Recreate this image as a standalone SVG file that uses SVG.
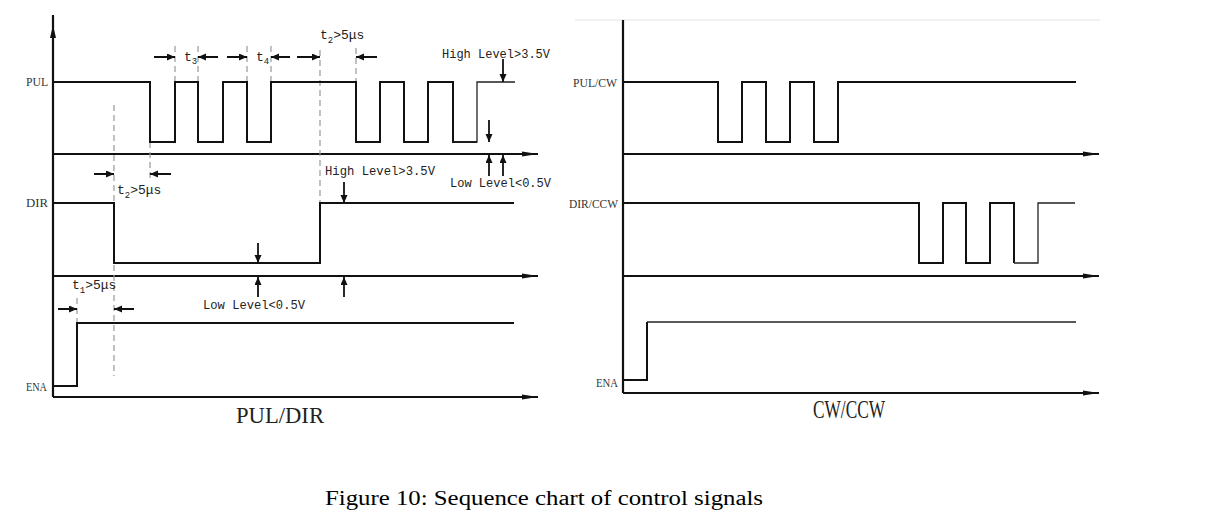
<svg xmlns="http://www.w3.org/2000/svg" width="1220" height="515" viewBox="0 0 1220 515">
<style>
.sig{fill:none;stroke:#111;stroke-width:2;stroke-linejoin:miter}
.thin{fill:none;stroke:#222;stroke-width:1.3}
.axis{fill:none;stroke:#111;stroke-width:2.2}
.dash{fill:none;stroke:#999;stroke-width:1.2;stroke-dasharray:6 4}
.dim{fill:none;stroke:#111;stroke-width:2}
.lv{fill:none;stroke:#111;stroke-width:1.8}
.lbl{font-family:"Liberation Mono",monospace;font-size:13px;fill:#222}
.sub{font-size:9px}
.name{font-family:"Liberation Serif",serif;font-size:12px;fill:#333}
.title{font-family:"Liberation Serif",serif;font-size:23px;fill:#222}
.cap{font-family:"Liberation Serif",serif;font-size:20px;fill:#000}
</style>
<defs>
<marker id="ax" markerUnits="userSpaceOnUse" markerWidth="18" markerHeight="8" refX="16" refY="3" orient="auto">
<path d="M0,0.5 L16,3 L0,5.5 z" fill="#111"/>
</marker>
<marker id="ar" markerUnits="userSpaceOnUse" markerWidth="10" markerHeight="8" refX="8" refY="3.5" orient="auto">
<path d="M0,0 L8,3.5 L0,7 z" fill="#111"/>
</marker>
</defs>
<rect width="1220" height="515" fill="#fff"/>

<g id="left-axes">
<line class="axis" x1="53" y1="15" x2="53" y2="397"/>
<polygon points="53,25 50,38 56,38" fill="#111"/>
<line class="axis" x1="53" y1="154" x2="538" y2="154" marker-end="url(#ax)"/>
<line class="axis" x1="53" y1="276" x2="538" y2="276" marker-end="url(#ax)"/>
<line class="axis" x1="53" y1="397" x2="538" y2="397" marker-end="url(#ax)"/>
</g>

<g id="left-guides">
<line class="dash" x1="114" y1="105" x2="114" y2="376"/>
<line class="dash" x1="150" y1="142" x2="150" y2="180"/>
<line class="dash" x1="175" y1="46" x2="175" y2="82"/>
<line class="dash" x1="198" y1="46" x2="198" y2="82"/>
<line class="dash" x1="247" y1="46" x2="247" y2="82"/>
<line class="dash" x1="271" y1="46" x2="271" y2="82"/>
<line class="dash" x1="320" y1="50" x2="320" y2="203"/>
<line class="dash" x1="356" y1="48" x2="356" y2="82"/>
<line class="dash" x1="77" y1="298" x2="77" y2="323"/>
</g>

<g id="PUL">
<text class="name" x="26" y="86" textLength="22" lengthAdjust="spacingAndGlyphs">PUL</text>
<polyline class="sig" points="53,82 150,82 150,142 175,142 175,82 198,82 198,142 223,142 223,82 247,82 247,142 271,142 271,82 356,82 356,142 380,142 380,82 404,82 404,142 428,142 428,82 453,82 453,142 477,142"/>
<polyline class="thin" points="453,142 477,142 477,82 515,82"/>
</g>

<g id="DIR">
<text class="name" x="26" y="207" textLength="22" lengthAdjust="spacingAndGlyphs">DIR</text>
<polyline class="sig" points="53,203 114,203 114,263 320,263 320,203 514,203"/>
</g>

<g id="ENA">
<text class="name" x="26" y="391" textLength="21" lengthAdjust="spacingAndGlyphs">ENA</text>
<polyline class="sig" points="53,386 77,386 77,323 514,323"/>
</g>

<g id="connectors">
<line class="dim" x1="154" y1="57" x2="175" y2="57" marker-end="url(#ar)"/>
<line class="dim" x1="218" y1="57" x2="198" y2="57" marker-end="url(#ar)"/>
<line class="dim" x1="227" y1="57" x2="247" y2="57" marker-end="url(#ar)"/>
<line class="dim" x1="290" y1="57" x2="271" y2="57" marker-end="url(#ar)"/>
<line class="dim" x1="297" y1="57" x2="320" y2="57" marker-end="url(#ar)"/>
<line class="dim" x1="377" y1="57" x2="356" y2="57" marker-end="url(#ar)"/>
<line class="dim" x1="94" y1="174" x2="114" y2="174" marker-end="url(#ar)"/>
<line class="dim" x1="171" y1="174" x2="150" y2="174" marker-end="url(#ar)"/>
<line class="dim" x1="58" y1="309" x2="77" y2="309" marker-end="url(#ar)"/>
<line class="dim" x1="134" y1="309" x2="114" y2="309" marker-end="url(#ar)"/>
<line class="lv" x1="503" y1="59" x2="503" y2="82" marker-end="url(#ar)"/>
<line class="lv" x1="489" y1="120" x2="489" y2="142" marker-end="url(#ar)"/>
<line class="lv" x1="489" y1="176" x2="489" y2="155" marker-end="url(#ar)"/>
<line class="lv" x1="503" y1="176" x2="503" y2="155" marker-end="url(#ar)"/>
<line class="lv" x1="344" y1="182" x2="344" y2="203" marker-end="url(#ar)"/>
<line class="lv" x1="344" y1="297" x2="344" y2="277" marker-end="url(#ar)"/>
<line class="lv" x1="258" y1="243" x2="258" y2="263" marker-end="url(#ar)"/>
<line class="lv" x1="258" y1="297" x2="258" y2="277" marker-end="url(#ar)"/>
</g>

<g id="left-labels">
<text class="lbl" x="184" y="61">t<tspan class="sub" dy="3">3</tspan></text>
<text class="lbl" x="256" y="61">t<tspan class="sub" dy="3">4</tspan></text>
<text class="lbl" x="320" y="39">t<tspan class="sub" dy="4">2</tspan><tspan dy="-4">&gt;5μs</tspan></text>
<text class="lbl" x="117" y="194">t<tspan class="sub" dy="4">2</tspan><tspan dy="-4">&gt;5μs</tspan></text>
<text class="lbl" x="72" y="289">t<tspan class="sub" dy="4">1</tspan><tspan dy="-4">&gt;5μs</tspan></text>
<text class="lbl" x="442" y="58" textLength="108" lengthAdjust="spacingAndGlyphs">High Level&gt;3.5V</text>
<text class="lbl" x="325" y="175" textLength="110" lengthAdjust="spacingAndGlyphs">High Level&gt;3.5V</text>
<text class="lbl" x="450" y="187" textLength="101" lengthAdjust="spacingAndGlyphs">Low Level&lt;0.5V</text>
<text class="lbl" x="203" y="309" textLength="102" lengthAdjust="spacingAndGlyphs">Low Level&lt;0.5V</text>
<text class="title" x="236" y="423" textLength="88" lengthAdjust="spacingAndGlyphs">PUL/DIR</text>
</g>

<g id="right-axes">
<line x1="575" y1="20" x2="1100" y2="20" stroke="#e4e4e4" stroke-width="1"/>
<line class="axis" x1="623" y1="20" x2="623" y2="393"/>
<line class="axis" x1="623" y1="154" x2="1099" y2="154" marker-end="url(#ax)"/>
<line class="axis" x1="623" y1="276" x2="1099" y2="276" marker-end="url(#ax)"/>
<line class="axis" x1="623" y1="393" x2="1099" y2="393" marker-end="url(#ax)"/>
</g>

<g id="PUL-CW">
<text class="name" x="573" y="87" textLength="44" lengthAdjust="spacingAndGlyphs">PUL/CW</text>
<polyline class="sig" points="623,82 718,82 718,142 742,142 742,82 766,82 766,142 790,142 790,82 814,82 814,142 838,142 838,82 1076,82"/>
</g>

<g id="DIR-CCW">
<text class="name" x="569" y="208" textLength="49" lengthAdjust="spacingAndGlyphs">DIR/CCW</text>
<polyline class="sig" points="623,203 919,203 919,263 943,263 943,203 966,203 966,263 990,263 990,203 1014,203 1014,263"/>
<polyline class="thin" points="1014,263 1038,263 1038,203 1075,203"/>
</g>

<g id="ENA-R">
<text class="name" x="596" y="387" textLength="22" lengthAdjust="spacingAndGlyphs">ENA</text>
<polyline class="sig" points="623,380 647,380 647,322"/>
<line class="thin" x1="647" y1="322" x2="1076" y2="322"/>
<text class="title" x="813" y="418" textLength="72" lengthAdjust="spacingAndGlyphs" style="font-size:25px">CW/CCW</text>
</g>

<g id="caption">
<text class="cap" x="325" y="505" textLength="438" lengthAdjust="spacingAndGlyphs">Figure 10: Sequence chart of control signals</text>
</g>
</svg>
